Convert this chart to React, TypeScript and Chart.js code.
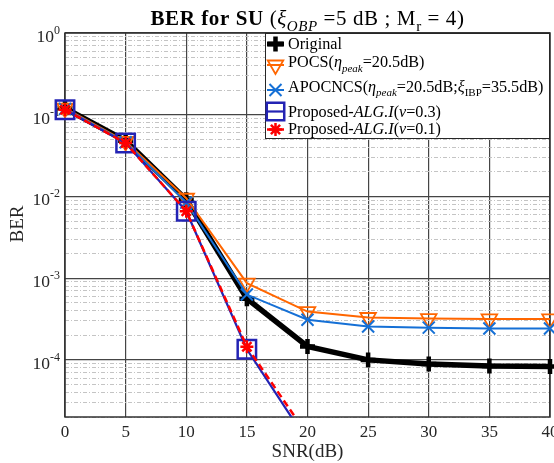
import React, { useEffect, useRef } from 'react';
import { Chart, registerables } from 'chart.js';

Chart.register(...registerables);

const SERIF = '"Liberation Serif", "Times New Roman", Times, serif';

// ---- data ----
const snr = [0, 5, 10, 15, 20, 25, 30, 35, 40];
const snrProposed = [0, 5, 10, 15, 20];
const berOriginal = [0.12, 0.048, 0.0091, 5.6e-4, 1.46e-4, 1.0e-4, 8.9e-5, 8.4e-5, 8.3e-5];
const berPOCS = [0.12, 0.047, 0.0095, 8.7e-4, 3.9e-4, 3.3e-4, 3.2e-4, 3.17e-4, 3.17e-4];
const berAPOCNCS = [0.118, 0.046, 0.0084, 6.3e-4, 3.1e-4, 2.56e-4, 2.48e-4, 2.42e-4, 2.42e-4];
const berProp03 = [0.115, 0.045, 0.0066, 1.35e-4, 1.0e-5];
const berProp01 = [0.115, 0.045, 0.0066, 1.45e-4, 1.2e-5];

// ---- ticks ----
const xTicks = [0, 5, 10, 15, 20, 25, 30, 35, 40];
const yDecades = [0, -1, -2, -3, -4];
const yMin = 2e-5;
const yMax = 1;

type Seg = { t: string; it?: boolean; b?: boolean; sub?: boolean; sup?: boolean };

const titleSegs: Seg[] = [
  { t: 'BER for SU', b: true },
  { t: ' (' },
  { t: 'ξ', it: true },
  { t: 'OBP', it: true, sub: true },
  { t: ' =5 dB ; M' },
  { t: 'r', sub: true },
  { t: ' = 4)' },
];

const legendRows: { segs: Seg[]; color: string; marker: string; lw: number; mr: number; mlw: number; dash?: number[] }[] = [
  { segs: [{ t: 'Original' }], color: '#000000', marker: 'cross', lw: 5, mr: 7.5, mlw: 4.5 },
  {
    segs: [{ t: 'POCS(' }, { t: 'η', it: true }, { t: 'peak', it: true, sub: true }, { t: '=20.5dB)' }],
    color: '#FF6600', marker: 'triangle', lw: 2, mr: 9, mlw: 1.8,
  },
  {
    segs: [
      { t: 'APOCNCS(' }, { t: 'η', it: true }, { t: 'peak', it: true, sub: true }, { t: '=20.5dB;' },
      { t: 'ξ', it: true }, { t: 'IBP', sub: true }, { t: '=35.5dB)' },
    ],
    color: '#1570D6', marker: 'crossRot', lw: 2, mr: 8.5, mlw: 2,
  },
  {
    segs: [{ t: 'Proposed-' }, { t: 'ALG.I', it: true }, { t: '(' }, { t: 'ν', it: true }, { t: '=0.3)' }],
    color: '#2323B4', marker: 'rect', lw: 2.2, mr: 13, mlw: 2.5,
  },
  {
    segs: [{ t: 'Proposed-' }, { t: 'ALG.I', it: true }, { t: '(' }, { t: 'ν', it: true }, { t: '=0.1)' }],
    color: '#FF0000', marker: 'star', lw: 2.5, mr: 6.5, mlw: 2.5, dash: [7, 4],
  },
];

function segFont(s: Seg, size: number) {
  const sz = s.sub || s.sup ? Math.round(size * 0.7) : size;
  return `${s.it ? 'italic ' : ''}${s.b ? 'bold ' : ''}${sz}px ${SERIF}`;
}
function richWidth(ctx: CanvasRenderingContext2D, segs: Seg[], size: number) {
  let w = 0;
  for (const s of segs) {
    ctx.font = segFont(s, size);
    w += ctx.measureText(s.t).width;
  }
  return w;
}
function drawRich(ctx: CanvasRenderingContext2D, segs: Seg[], x: number, baseline: number, size: number) {
  let cx = x;
  ctx.textAlign = 'left';
  ctx.textBaseline = 'alphabetic';
  for (const s of segs) {
    ctx.font = segFont(s, size);
    const dy = s.sub ? size * 0.3 : s.sup ? -size * 0.42 : 0;
    ctx.fillText(s.t, cx, baseline + dy);
    cx += ctx.measureText(s.t).width;
  }
  return cx;
}

function drawMarker(ctx: CanvasRenderingContext2D, style: string, x: number, y: number, r: number, color: string, lw: number) {
  ctx.save();
  ctx.strokeStyle = color;
  ctx.lineWidth = lw;
  ctx.setLineDash([]);
  ctx.beginPath();
  const c = Math.SQRT1_2 * r;
  if (style === 'cross' || style === 'star') {
    ctx.moveTo(x - r, y); ctx.lineTo(x + r, y);
    ctx.moveTo(x, y - r); ctx.lineTo(x, y + r);
  }
  if (style === 'crossRot' || style === 'star') {
    ctx.moveTo(x - c, y - c); ctx.lineTo(x + c, y + c);
    ctx.moveTo(x + c, y - c); ctx.lineTo(x - c, y + c);
  }
  if (style === 'triangle') {
    let rad = Math.PI;
    ctx.moveTo(x + Math.sin(rad) * r, y - Math.cos(rad) * r);
    rad += (2 * Math.PI) / 3;
    ctx.lineTo(x + Math.sin(rad) * r, y - Math.cos(rad) * r);
    rad += (2 * Math.PI) / 3;
    ctx.lineTo(x + Math.sin(rad) * r, y - Math.cos(rad) * r);
    ctx.closePath();
  }
  if (style === 'rect') {
    ctx.rect(x - c, y - c, 2 * c, 2 * c);
  }
  ctx.stroke();
  ctx.restore();
}

const isDecade = (v: number) => Math.abs(Math.log10(v) - Math.round(Math.log10(v))) < 1e-9;

const customDraw = {
  id: 'customDraw',
  beforeDatasetsDraw(chart: any) {
    const { ctx, chartArea: a, scales } = chart;
    const xs = scales.x;
    const ys = scales.y;
    ctx.save();
    // box
    ctx.strokeStyle = '#303030';
    ctx.lineWidth = 1.5;
    ctx.strokeRect(a.left, a.top, a.right - a.left, a.bottom - a.top);
    ctx.fillStyle = '#262626';
    // x tick labels
    ctx.font = `17px ${SERIF}`;
    ctx.textAlign = 'center';
    ctx.textBaseline = 'alphabetic';
    for (const v of xTicks) {
      ctx.fillText(String(v), xs.getPixelForValue(v), a.bottom + 20);
    }
    // y tick labels
    for (const e of yDecades) {
      const y = ys.getPixelForValue(Math.pow(10, e));
      const sup = e === 0 ? '0' : '-' + String(-e);
      ctx.font = `12px ${SERIF}`;
      const sw = ctx.measureText(sup).width;
      ctx.font = `17.5px ${SERIF}`;
      const tw = ctx.measureText('10').width;
      const right = a.left - 5;
      ctx.textAlign = 'left';
      ctx.fillText('10', right - sw - tw, y + 9);
      ctx.font = `12px ${SERIF}`;
      ctx.fillText(sup, right - sw, y + 1);
    }
    ctx.restore();
  },
  afterDraw(chart: any) {
    const { ctx, chartArea: a } = chart;
    ctx.save();
    ctx.fillStyle = '#000';
    // title
    const tsize = 21;
    (ctx as any).letterSpacing = '0.6px';
    const tw = richWidth(ctx, titleSegs, tsize);
    drawRich(ctx, titleSegs, (a.left + a.right) / 2 - tw / 2, 25, tsize);
    (ctx as any).letterSpacing = '0px';
    // axis titles
    ctx.fillStyle = '#262626';
    ctx.font = `19px ${SERIF}`;
    ctx.textAlign = 'center';
    ctx.textBaseline = 'alphabetic';
    ctx.fillText('SNR(dB)', (a.left + a.right) / 2, 457);
    ctx.save();
    ctx.translate(18, 224);
    ctx.rotate(-Math.PI / 2);
    ctx.textBaseline = 'middle';
    ctx.fillText('BER', 0, 0);
    ctx.restore();
    // legend
    const lx = 265, ly = a.top, lw = a.right - 265, lh = 106;
    ctx.fillStyle = '#ffffff';
    ctx.fillRect(lx, ly, lw, lh);
    ctx.strokeStyle = '#262626';
    ctx.lineWidth = 1;
    ctx.strokeRect(lx + 0.5, ly + 0.5, lw - 1, lh - 1);
    const centers = [44, 65, 90, 111.5, 129.5];
    const baselines = [48.5, 67, 91.5, 117, 133.5];
    legendRows.forEach((row, i) => {
      const cy = centers[i];
      ctx.save();
      ctx.strokeStyle = row.color;
      ctx.lineWidth = row.lw;
      ctx.setLineDash(row.dash || []);
      ctx.beginPath();
      ctx.moveTo(267, cy);
      ctx.lineTo(284, cy);
      ctx.stroke();
      ctx.restore();
      drawMarker(ctx, row.marker, 275.5, cy, row.mr * (row.marker === 'rect' ? 0.95 : 1), row.color, row.mlw);
      ctx.fillStyle = '#000';
      drawRich(ctx, row.segs, 288, baselines[i], 16.2);
    });
    ctx.restore();
  },
};

const clipArea = { left: 20, top: 5, right: 10, bottom: 0 };

export default function App() {
  const ref = useRef<HTMLCanvasElement | null>(null);
  useEffect(() => {
    if (!ref.current) return;
    const mk = (xsArr: number[], ys: number[]) => xsArr.map((x, i) => ({ x, y: ys[i] }));
    const chart = new Chart(ref.current, {
      type: 'line',
      data: {
        datasets: [
          {
            label: 'Original',
            data: mk(snr, berOriginal),
            borderColor: '#000000',
            borderWidth: 5.5,
            pointStyle: 'cross',
            pointRadius: 7.5,
            pointBorderWidth: 4.5,
            pointBorderColor: '#000000',
            pointBackgroundColor: 'rgba(0,0,0,0)',
            order: 5,
            clip: clipArea,
          },
          {
            label: 'POCS',
            data: mk(snr, berPOCS),
            borderColor: '#FF6600',
            borderWidth: 2,
            pointStyle: 'triangle',
            rotation: 180,
            pointRadius: 9,
            pointBorderWidth: 1.8,
            pointBorderColor: '#FF6600',
            pointBackgroundColor: 'rgba(0,0,0,0)',
            order: 4,
            clip: clipArea,
          },
          {
            label: 'APOCNCS',
            data: mk(snr, berAPOCNCS),
            borderColor: '#1570D6',
            borderWidth: 2,
            pointStyle: 'crossRot',
            pointRadius: 8.5,
            pointBorderWidth: 2,
            pointBorderColor: '#1570D6',
            pointBackgroundColor: 'rgba(0,0,0,0)',
            order: 3,
            clip: clipArea,
          },
          {
            label: 'Proposed 0.3',
            data: mk(snrProposed, berProp03),
            borderColor: '#2323B4',
            borderWidth: 2.2,
            pointStyle: 'rect',
            pointRadius: 13,
            pointBorderWidth: 2.5,
            pointBorderColor: '#2323B4',
            pointBackgroundColor: 'rgba(0,0,0,0)',
            order: 2,
            clip: clipArea,
          },
          {
            label: 'Proposed 0.1',
            data: mk(snrProposed, berProp01),
            borderColor: '#FF0000',
            borderWidth: 2.5,
            borderDash: [7, 4],
            pointStyle: 'star',
            pointRadius: 6.5,
            pointBorderWidth: 2.5,
            pointBorderColor: '#FF0000',
            pointBackgroundColor: 'rgba(0,0,0,0)',
            order: 1,
            clip: clipArea,
          },
        ] as any,
      },
      options: {
        responsive: false,
        animation: false,
        devicePixelRatio: 1,
        layout: { autoPadding: false, padding: { top: 33, right: 4, left: 0, bottom: 0 } },
        plugins: { legend: { display: false }, tooltip: { enabled: false }, title: { display: false } },
        elements: { line: { tension: 0 } },
        scales: {
          x: {
            type: 'linear',
            min: 0,
            max: 40,
            ticks: { display: false },
            afterBuildTicks: (scale: any) => {
              scale.ticks = xTicks.map((v) => ({ value: v }));
            },
            afterFit: (scale: any) => {
              scale.height = 46;
              scale.paddingLeft = 0;
              scale.paddingRight = 0;
            },
            grid: { color: '#454545', lineWidth: 1.2, drawTicks: false },
            border: { display: false },
          },
          y: {
            type: 'logarithmic',
            min: yMin,
            max: yMax,
            ticks: { display: false, autoSkip: false },
            afterBuildTicks: (scale: any) => {
              const t: any[] = [];
              for (let e = -5; e <= 0; e++) {
                for (let m = 1; m <= 9; m++) {
                  const v = Number((m * Math.pow(10, e)).toPrecision(6));
                  if (v >= yMin * 0.9999 && v <= yMax * 1.0001) t.push({ value: v, major: m === 1 });
                }
              }
              scale.ticks = t;
            },
            afterFit: (scale: any) => {
              scale.width = 65;
              scale.paddingTop = 0;
              scale.paddingBottom = 0;
            },
            grid: {
              drawTicks: false,
              color: (c: any) => (c.tick && !isDecade(c.tick.value) ? '#c4c4c4' : '#454545'),
              lineWidth: (c: any) => (c.tick && !isDecade(c.tick.value) ? 1 : 1.2),
            },
            border: {
              display: false,
              dash: (c: any) => (c.tick && !isDecade(c.tick.value) ? [4, 2, 1, 2] : []),
            },
          },
        },
      } as any,
      plugins: [customDraw],
    });
    return () => chart.destroy();
  }, []);
  return (
    <div style={{ position: 'absolute', left: 0, top: 0, width: 554, height: 463, background: '#fff' }}>
      <canvas ref={ref} width={554} height={463} style={{ display: 'block' }} />
    </div>
  );
}
